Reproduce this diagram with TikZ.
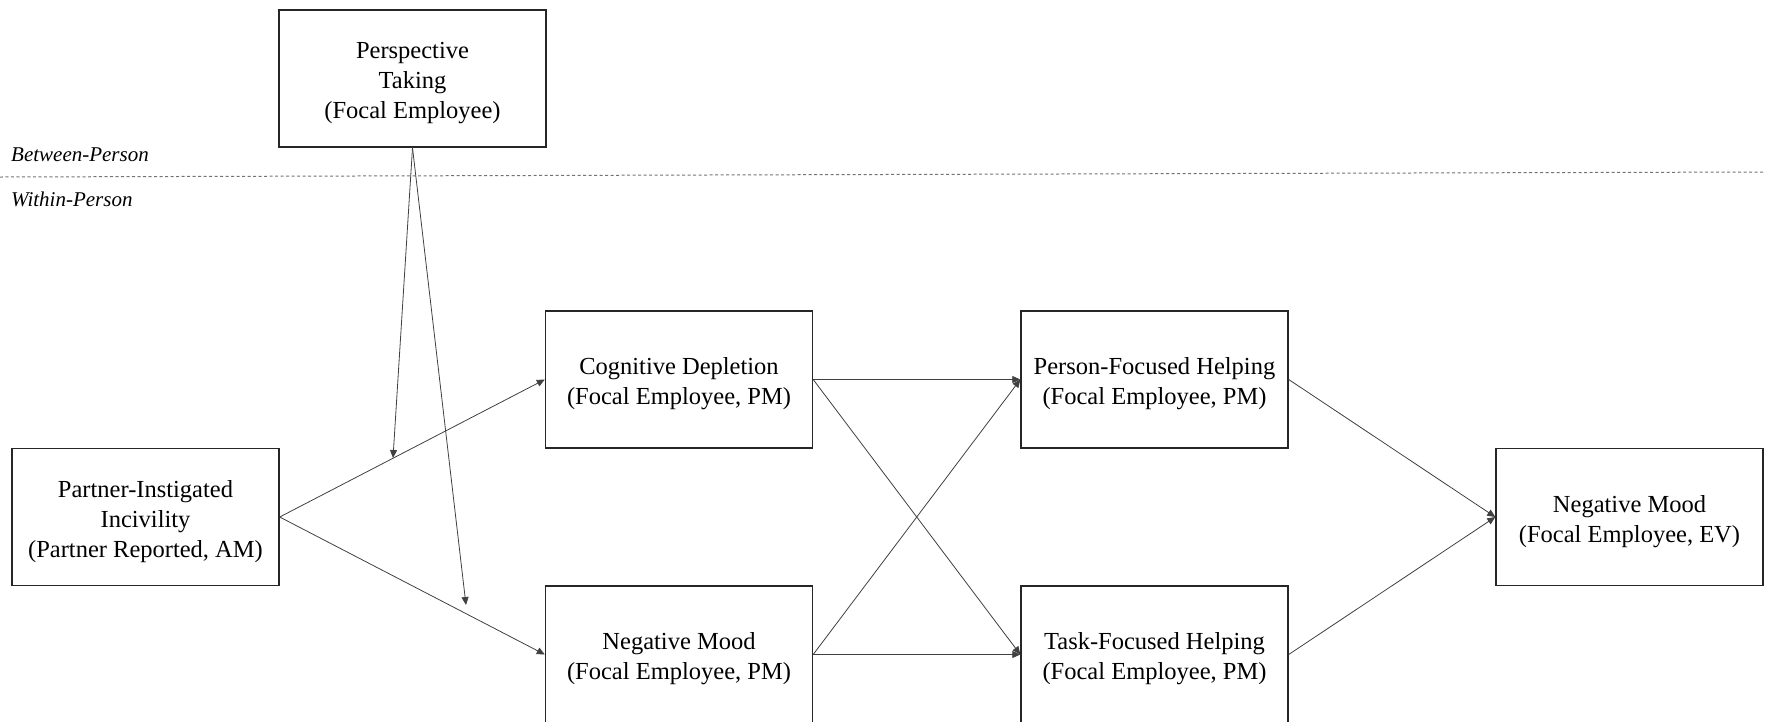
\documentclass[tikz,border=0pt]{standalone}
\usepackage{fontspec}
\setmainfont{Liberation Serif}
\usetikzlibrary{arrows.meta}
\newcommand\tpad{\rule{0pt}{26pt}}
\begin{document}
\begin{tikzpicture}[x=1pt,y=-1pt,
  box/.style={draw=black!85, line width=1.4pt, minimum width=267pt, minimum height=137pt,
    inner sep=0pt, align=center, font=\fontsize{24.5}{30}\selectfont},
  conn/.style={draw=black!75, line width=0.8pt, -{Triangle[length=8pt,width=7pt]}},
  lvl/.style={anchor=west, inner sep=0pt, font=\fontsize{21}{25}\selectfont\itshape}]
\useasboundingbox (0,0) rectangle (1765,721);
% level labels and separator
\node[lvl] (bp) at (11,155) {Between-Person};
\node[lvl] (wp) at (11,199) {Within-Person};
\coordinate (dl) at (0,177);
\coordinate (dr) at (1765,172);
\draw[black!55, line width=1pt, dash pattern=on 3pt off 2.5pt] (dl) -- (dr);
% boxes
\node[box] (pt) at (412.5,78.5) {\tpad Perspective\\Taking\\(Focal Employee)};
\node[box] (pi) at (145.5,517) {\tpad Partner-Instigated\\Incivility\\(Partner Reported, AM)};
\node[box] (cd) at (679,379.5) {\tpad Cognitive Depletion\\(Focal Employee, PM)};
\node[box] (nm) at (679,654.5) {\tpad Negative Mood\\(Focal Employee, PM)};
\node[box] (pf) at (1154.5,379.5) {\tpad Person-Focused Helping\\(Focal Employee, PM)};
\node[box] (tf) at (1154.5,654.5) {\tpad Task-Focused Helping\\(Focal Employee, PM)};
\node[box] (ev) at (1629.5,517) {\tpad Negative Mood\\(Focal Employee, EV)};
% connectors
\draw[conn] (pi.east) -- (cd.west);
\draw[conn] (pi.east) -- (nm.west);
\draw[conn] (cd.east) -- (pf.west);
\draw[conn] (cd.east) -- (tf.west);
\draw[conn] (nm.east) -- (pf.west);
\draw[conn] (nm.east) -- (tf.west);
\draw[conn] (pf.east) -- (ev.west);
\draw[conn] (tf.east) -- (ev.west);
% moderation
\coordinate (m1) at (393,458);
\coordinate (m2) at (466,605);
\draw[conn] (pt.south) -- (m1);
\draw[conn] (pt.south) -- (m2);
\end{tikzpicture}
\end{document}
